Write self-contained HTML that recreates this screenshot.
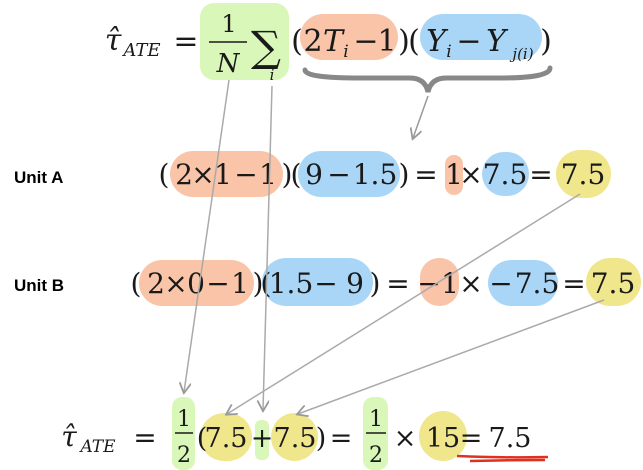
<!DOCTYPE html>
<html><head><meta charset="utf-8"><style>
html,body{margin:0;padding:0;background:#fff;width:643px;height:470px;overflow:hidden}
svg text{font-family:"DejaVu Serif","Liberation Serif",serif;fill:#1a1a1a;text-anchor:middle}
.s{font-family:"Liberation Sans",sans-serif;font-weight:bold;fill:#000;text-anchor:start}
.i{font-style:italic}
</style></head><body>
<svg width="643" height="470" viewBox="0 0 643 470" xmlns="http://www.w3.org/2000/svg">
<defs><marker id="a" viewBox="0 0 10 10" refX="8" refY="5" markerWidth="8" markerHeight="8" orient="auto"><path d="M0,0 L9,5 L0,10" fill="none" stroke="#999" stroke-width="1.5"/></marker></defs>
<!-- top -->
<rect x="200" y="3" width="89" height="77" rx="14" fill="#d9f7b8"/>
<rect x="300" y="14" width="98" height="46" rx="23" fill="#f9c4a8"/>
<rect x="420" y="14" width="122" height="46" rx="23" fill="#a9d6f7"/>
<text x="113" y="50" font-size="30" class="i">τ̂</text>
<text x="142" y="56" font-size="18" class="i">ATE</text>
<text x="186" y="51" font-size="30">=</text>
<text x="229" y="32" font-size="24">1</text>
<line x1="209" y1="42" x2="247" y2="42" stroke="#1a1a1a" stroke-width="1.5"/>
<text x="228" y="72" font-size="26" class="i">N</text>
<text x="266" y="61" font-size="42">∑</text>
<text x="272" y="80" font-size="15" class="i">i</text>
<g font-size="30">
<text x="297" y="51">(</text><text x="313" y="51">2</text><text x="333" y="51" class="i">T</text>
<text x="346" y="57" font-size="17" class="i">i</text><text x="366" y="51">−</text><text x="387" y="51">1</text>
<text x="404" y="51">)</text><text x="414" y="51">(</text><text x="436" y="51" class="i">Y</text>
<text x="449" y="57" font-size="17" class="i">i</text><text x="469" y="51">−</text><text x="496" y="51" class="i">Y</text>
<text x="523" y="59" font-size="15" class="i">j(i)</text><text x="546" y="51">)</text>
</g>
<path d="M305,70 Q305,78 360,78 L410,78 Q425,78 428,92 Q431,78 446,78 L500,78 Q550,78 550,68" fill="none" stroke="#888" stroke-width="5" stroke-linecap="round"/>
<line x1="428" y1="96" x2="413" y2="138" stroke="#999" stroke-width="1.5" marker-end="url(#a)"/>
<!-- Unit A -->
<text x="14" y="183" font-size="17" class="s">Unit A</text>
<rect x="170" y="151" width="113" height="46" rx="23" fill="#f9c4a8"/>
<rect x="298" y="151" width="102" height="46" rx="23" fill="#a9d6f7"/>
<rect x="445" y="155" width="18" height="40" rx="9" fill="#f9c4a8"/>
<rect x="482" y="152" width="47" height="44" rx="22" fill="#a9d6f7"/>
<rect x="556" y="150" width="55" height="48" rx="24" fill="#f0e68c"/>
<g font-size="28">
<text x="164" y="184">(</text><text x="184" y="184">2</text><text x="203" y="184">×</text><text x="223" y="184">1</text>
<text x="246" y="184">−</text><text x="268" y="184">1</text><text x="287" y="184">)</text><text x="296" y="184">(</text>
<text x="314" y="184">9</text><text x="339" y="184">−</text><text x="375" y="184">1.5</text><text x="404" y="184">)</text>
<text x="426" y="184">=</text><text x="454" y="184">1</text><text x="471" y="184">×</text><text x="505" y="184">7.5</text>
<text x="541" y="184">=</text><text x="583" y="184">7.5</text>
</g>
<!-- Unit B -->
<text x="14" y="291" font-size="17" class="s">Unit B</text>
<rect x="139" y="260" width="115" height="46" rx="23" fill="#f9c4a8"/>
<rect x="262" y="258" width="111" height="48" rx="24" fill="#a9d6f7"/>
<rect x="420" y="258" width="39" height="48" rx="19" fill="#f9c4a8"/>
<rect x="488" y="260" width="70" height="46" rx="23" fill="#a9d6f7"/>
<rect x="586" y="258" width="55" height="48" rx="24" fill="#f0e68c"/>
<g font-size="28">
<text x="136" y="293">(</text><text x="156" y="293">2</text><text x="176" y="293">×</text><text x="196" y="293">0</text>
<text x="218" y="293">−</text><text x="240" y="293">1</text><text x="258" y="293">)</text><text x="266" y="293">(</text>
<text x="291" y="293">1.5</text><text x="326" y="293">−</text><text x="355" y="293">9</text><text x="375" y="293">)</text>
<text x="398" y="293">=</text><text x="429" y="293">−</text><text x="450" y="293">1</text><text x="471" y="293">×</text>
<text x="501" y="293">−</text><text x="537" y="293">7.5</text><text x="574" y="293">=</text><text x="613" y="293">7.5</text>
</g>
<!-- bottom -->
<rect x="172" y="397" width="23" height="73" rx="10" fill="#d9f7b8"/>
<rect x="255" y="420" width="14" height="40" rx="6" fill="#d9f7b8"/>
<rect x="363" y="397" width="25" height="73" rx="10" fill="#d9f7b8"/>
<rect x="200" y="413" width="52" height="48" rx="24" fill="#f0e68c"/>
<rect x="271" y="413" width="47" height="48" rx="24" fill="#f0e68c"/>
<ellipse cx="443" cy="436" rx="24" ry="25" fill="#f0e68c"/>
<text x="69" y="446" font-size="28" class="i">τ̂</text>
<text x="98" y="452" font-size="17" class="i">ATE</text>
<text x="145" y="447" font-size="28">=</text>
<text x="184" y="426" font-size="22">1</text>
<line x1="175" y1="433" x2="193" y2="433" stroke="#1a1a1a" stroke-width="1.5"/>
<text x="184" y="462" font-size="22">2</text>
<g font-size="27">
<text x="202" y="447">(</text><text x="226" y="447">7.5</text><text x="262" y="447">+</text><text x="295" y="447">7.5</text>
<text x="321" y="447">)</text><text x="341" y="447">=</text><text x="405" y="447">×</text><text x="443" y="447">15</text>
<text x="471" y="447">=</text><text x="510" y="447">7.5</text>
</g>
<text x="376" y="426" font-size="22">1</text>
<line x1="366" y1="433" x2="386" y2="433" stroke="#1a1a1a" stroke-width="1.5"/>
<text x="376" y="462" font-size="22">2</text>
<path d="M457,456 Q500,458 548,457 M470,461 Q510,460 545,460" stroke="#e03020" stroke-width="2.5" fill="none"/>
<!-- arrows -->
<g stroke="#aaa" stroke-width="1.5" fill="none" marker-end="url(#a)">
<line x1="229" y1="80" x2="184" y2="392"/>
<line x1="272" y1="86" x2="263" y2="410"/>
<line x1="580" y1="194" x2="227" y2="414"/>
<line x1="604" y1="300" x2="298" y2="414"/>
</g>
</svg>
</body></html>
